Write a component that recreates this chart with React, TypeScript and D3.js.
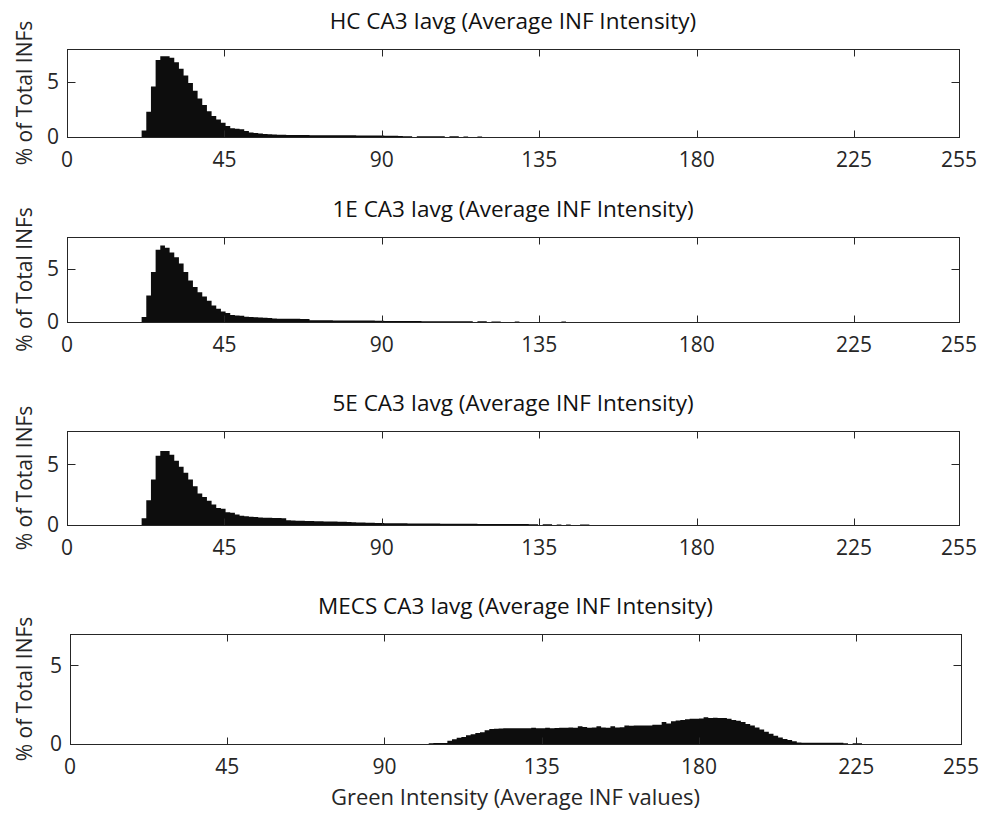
import React, { useRef, useEffect } from 'react';
import * as d3 from 'd3';

// histogram bins are 4/3 intensity units wide, starting at 0
const BIN_WIDTH = 4 / 3;
const X_MAX = 255;
const xTicks = [0, 45, 90, 135, 180, 225, 255];
const yTicks = [0, 5];

const titles = [
  'HC CA3 Iavg (Average INF Intensity)',
  '1E CA3 Iavg (Average INF Intensity)',
  '5E CA3 Iavg (Average INF Intensity)',
  'MECS CA3 Iavg (Average INF Intensity)',
];
const yMaxes = [8, 8, 7.75, 7];
const yLabel = '% of Total INFs';
const xLabel = 'Green Intensity (Average INF values)';

// % of total per bin, first entry is bin index *Start
const hcStart = 16;
const hcValues = [
  0.6, 2.3, 4.6, 7.0, 7.35, 7.35, 7.2, 6.8, 6.2, 5.6, 4.9, 4.2, 3.5, 2.9, 2.35, 1.9, 1.6, 1.3, 1.0, 0.8,
  0.75, 0.7, 0.55, 0.42, 0.36, 0.32, 0.28, 0.24, 0.22,
  0.2, 0.2, 0.19, 0.19, 0.18, 0.18, 0.18, 0.17, 0.17, 0.17, 0.16,
  0.16, 0.16, 0.15, 0.15, 0.15, 0.15, 0.14, 0.14, 0.14, 0.13, 0.13, 0.13, 0.12, 0.12, 0.12,
  0.1, 0.06, 0.06, 0, 0.07, 0.07, 0.07, 0.07, 0.06, 0.06, 0, 0.06, 0.06, 0, 0.05, 0, 0, 0.05,
];

const e1Start = 16;
const e1Values = [
  0.47, 2.5, 4.7, 6.8, 7.2, 7.0, 6.55, 6.1, 5.5, 4.7, 3.9, 3.3, 2.8, 2.4, 2.0, 1.56, 1.25, 1.0, 0.84, 0.65,
  0.62, 0.6, 0.5, 0.47, 0.45, 0.42, 0.4, 0.38,
  0.32, 0.31, 0.31, 0.3, 0.3, 0.3, 0.29, 0.29,
  0.17, 0.17, 0.16, 0.16, 0.16, 0.15, 0.15, 0.15, 0.14, 0.14, 0.14, 0.13, 0.13, 0.13, 0.12, 0.12,
  0.1, 0.1, 0.1, 0.1, 0.09, 0.09, 0.09, 0.09, 0.08, 0.08, 0.08, 0.08, 0.08, 0.07, 0.07, 0.07, 0.07, 0.07,
  0.06, 0, 0.06, 0.06, 0, 0.05, 0.05, 0, 0, 0, 0.05, 0, 0, 0, 0, 0, 0, 0, 0, 0, 0.05,
];

const e5Start = 16;
const e5Values = [
  0.55, 2.05, 3.75, 5.7, 6.1, 6.1, 5.8, 5.3, 4.8, 4.3, 3.75, 3.2, 2.6, 2.3, 2.0, 1.7, 1.4, 1.35, 1.05, 1.0,
  0.87, 0.76, 0.72, 0.68, 0.66, 0.62, 0.6, 0.6, 0.58, 0.57, 0.55,
  0.4, 0.38, 0.36, 0.35, 0.33, 0.32, 0.31, 0.3, 0.29, 0.28, 0.28, 0.27, 0.26, 0.25,
  0.22, 0.21, 0.2, 0.19, 0.18, 0.17, 0.16,
  0.15, 0.15, 0.14, 0.14, 0.14, 0.13, 0.13, 0.13, 0.12, 0.12, 0.12, 0.12, 0.11, 0.11, 0.11, 0.11,
  0.1, 0.1, 0.1, 0.1, 0.09, 0.09, 0.09, 0.09, 0.09, 0.08, 0.08, 0.08, 0.08, 0.08, 0.08,
  0.07, 0.06, 0, 0.06, 0.06, 0, 0.05, 0, 0.05, 0, 0, 0.05, 0.05,
];

const mecsStart = 77;
const mecsValues = [
  0.04, 0.06, 0.06, 0.07, 0.2, 0.3, 0.4, 0.45, 0.55, 0.62, 0.7, 0.75, 0.87,
  0.95, 0.97, 0.98, 1.0, 1.0, 1.0, 1.01, 1.0, 1.0, 1.03, 1.0, 1.01, 1.04, 1.0, 1.02,
  1.04, 1.04, 1.05, 1.04, 1.13, 1.08, 1.04, 1.05, 1.13, 1.05, 1.04, 1.13, 1.05, 1.06,
  1.17, 1.16, 1.17, 1.17, 1.18, 1.18, 1.23, 1.23, 1.4, 1.3, 1.45, 1.5, 1.52, 1.58, 1.6, 1.6, 1.62,
  1.7, 1.66, 1.67, 1.66, 1.65, 1.6, 1.52, 1.48, 1.4, 1.28, 1.18, 1.05, 0.92, 0.78, 0.65, 0.53,
  0.42, 0.32, 0.25, 0.18, 0.1, 0.08, 0.08, 0.08, 0.08, 0.08, 0.08, 0.08, 0.08, 0.08,
  0.04, 0, 0.04, 0.04,
];

const series = [
  { start: hcStart, values: hcValues },
  { start: e1Start, values: e1Values },
  { start: e5Start, values: e5Values },
  { start: mecsStart, values: mecsValues },
];

// axes boxes in page pixels
const boxes = [
  { left: 67, right: 959, top: 49, bottom: 137 },
  { left: 67, right: 959, top: 237, bottom: 322 },
  { left: 67, right: 959, top: 431, bottom: 525 },
  { left: 70, right: 961, top: 634, bottom: 744 },
];

const W = 988;
const H = 814;
const FONT = '"Open Sans", "Noto Sans", sans-serif';
const AXIS = '#262626';

export default function App() {
  const svgRef = useRef<SVGSVGElement>(null);

  useEffect(() => {
    if (!svgRef.current) return;
    const svg = d3.select(svgRef.current);
    svg.selectAll('*').remove();

    svg.append('rect').attr('width', W).attr('height', H).attr('fill', '#fff');

    series.forEach((s, i) => {
      const b = boxes[i];
      const x = d3.scaleLinear().domain([0, X_MAX]).range([b.left, b.right]);
      const y = d3.scaleLinear().domain([0, yMaxes[i]]).range([b.bottom, b.top]);
      const g = svg.append('g');

      // histogram as a stepped area
      const pts = s.values.map((v, j) => ({ x0: (s.start + j) * BIN_WIDTH, v }));
      pts.push({ x0: (s.start + s.values.length) * BIN_WIDTH, v: 0 });
      const area = d3.area<{ x0: number; v: number }>()
        .x(d => x(Math.min(d.x0, X_MAX)))
        .y0(y(0))
        .y1(d => y(d.v))
        .curve(d3.curveStepAfter);
      g.append('path')
        .datum(pts)
        .attr('fill', '#0d0d0d')
        .attr('d', area);

      // box
      g.append('rect')
        .attr('x', b.left + 0.5)
        .attr('y', b.top + 0.5)
        .attr('width', b.right - b.left)
        .attr('height', b.bottom - b.top)
        .attr('fill', 'none')
        .attr('stroke', AXIS)
        .attr('stroke-width', 1);

      // x ticks (bottom and top, inward)
      xTicks.forEach(t => {
        const px = Math.round(x(t)) + 0.5;
        g.append('line').attr('x1', px).attr('x2', px)
          .attr('y1', b.bottom + 0.5).attr('y2', b.bottom + 0.5 - 7)
          .attr('stroke', AXIS);
        g.append('line').attr('x1', px).attr('x2', px)
          .attr('y1', b.top + 0.5).attr('y2', b.top + 0.5 + 7)
          .attr('stroke', AXIS);
        g.append('text')
          .attr('x', x(t))
          .attr('y', b.bottom + 23)
          .attr('dy', '0.35em')
          .attr('text-anchor', 'middle')
          .attr('font-family', FONT)
          .attr('font-size', 21)
          .attr('fill', AXIS)
          .text(t);
      });

      // y ticks (left and right, inward)
      yTicks.forEach(t => {
        const py = Math.round(y(t)) + 0.5;
        g.append('line').attr('x1', b.left + 0.5).attr('x2', b.left + 0.5 + 8)
          .attr('y1', py).attr('y2', py).attr('stroke', AXIS);
        g.append('line').attr('x1', b.right + 0.5).attr('x2', b.right + 0.5 - 8)
          .attr('y1', py).attr('y2', py).attr('stroke', AXIS);
        g.append('text')
          .attr('x', b.left - 8)
          .attr('y', y(t))
          .attr('dy', '0.35em')
          .attr('text-anchor', 'end')
          .attr('font-family', FONT)
          .attr('font-size', 21)
          .attr('fill', AXIS)
          .text(t);
      });

      // title
      g.append('text')
        .attr('x', (b.left + b.right) / 2)
        .attr('y', b.top - 28)
        .attr('dy', '0.35em')
        .attr('text-anchor', 'middle')
        .attr('font-family', FONT)
        .attr('font-size', 22.5)
        .attr('fill', '#111')
        .text(titles[i]);

      // y label
      g.append('text')
        .attr('transform', `translate(25, ${(b.top + b.bottom) / 2}) rotate(-90)`)
        .attr('dy', '0.35em')
        .attr('text-anchor', 'middle')
        .attr('font-family', FONT)
        .attr('font-size', 21)
        .attr('fill', AXIS)
        .text(yLabel);

      if (i === series.length - 1) {
        g.append('text')
          .attr('x', (b.left + b.right) / 2)
          .attr('y', 797)
          .attr('dy', '0.35em')
          .attr('text-anchor', 'middle')
          .attr('font-family', FONT)
          .attr('font-size', 22)
          .attr('fill', AXIS)
          .text(xLabel);
      }
    });
  }, []);

  return (
    <svg
      ref={svgRef}
      width={W}
      height={H}
      style={{ position: 'absolute', left: 0, top: 0, display: 'block' }}
    />
  );
}
